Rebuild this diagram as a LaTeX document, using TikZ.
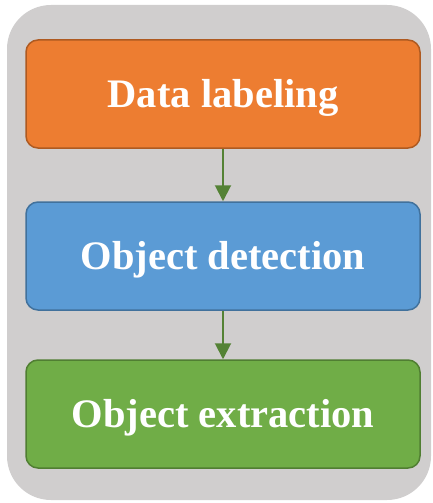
\documentclass[tikz,border=0pt]{standalone}
\usepackage{fontspec}
\setmainfont{Liberation Serif}
\usepackage{xcolor}
\usepackage{tikz}
\usetikzlibrary{arrows.meta}
\definecolor{panel}{HTML}{D0CECE}
\definecolor{orangefill}{HTML}{ED7D31}
\definecolor{orangeedge}{HTML}{AE5A21}
\definecolor{bluefill}{HTML}{5B9BD5}
\definecolor{blueedge}{HTML}{41719C}
\definecolor{greenfill}{HTML}{70AD47}
\definecolor{greenedge}{HTML}{507E32}
\definecolor{arrowgreen}{HTML}{548235}
\tikzset{
  stage/.style={rounded corners=12pt, line width=1.5pt, minimum width=394pt,
    minimum height=108pt, text height=36pt, text depth=9pt, text=white,
    font=\bfseries\fontsize{40.5}{48}\selectfont},
  flow/.style={draw=arrowgreen, line width=2pt, -{Triangle[width=16pt,length=16pt]}},
}

\begin{document}
\begin{tikzpicture}[x=1pt,y=-1pt]
  \useasboundingbox (0,0) rectangle (433,503);
  \fill[panel, rounded corners=44pt] (7,5) rectangle (431,500);
  \node[stage, fill=orangefill, draw=orangeedge] (labeling) at (223,94) {Data labeling};
  \node[stage, fill=bluefill, draw=blueedge] (detection) at (223,256) {Object detection};
  \node[stage, fill=greenfill, draw=greenedge] (extraction) at (223,414) {Object extraction};
  \draw[flow] (labeling) -- (detection);
  \draw[flow] (detection) -- (extraction);
\end{tikzpicture}
\end{document}
